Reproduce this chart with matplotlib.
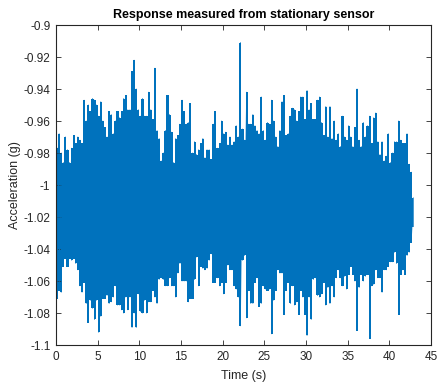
import numpy as np
import matplotlib
matplotlib.use('Agg')
import matplotlib.pyplot as plt
from matplotlib.ticker import FuncFormatter

plt.rcParams['font.family'] = ['Liberation Sans', 'DejaVu Sans']

dt = 0.25
upper = [
    -0.977, -0.968, -0.980, -0.986, -0.970, -0.978, -0.986, -0.977,
    -0.969, -0.974, -0.970, -0.972, -0.974, -0.947, -0.960, -0.950,
    -0.954, -0.946, -0.947, -0.950, -0.957, -0.948, -0.960, -0.964,
    -0.970, -0.954, -0.956, -0.968, -0.960, -0.954, -0.958, -0.954,
    -0.946, -0.944, -0.953, -0.953, -0.929, -0.922, -0.940, -0.953,
    -0.957, -0.946, -0.957, -0.957, -0.942, -0.953, -0.959, -0.927,
    -0.966, -0.971, -0.985, -0.980,
    -0.966, -0.944, -0.956, -0.967, -0.986, -0.971, -0.969, -0.962,
    -0.947, -0.954, -0.962, -0.961, -0.949, -0.980, -0.973, -0.981,
    -0.978, -0.974, -0.971, -0.983, -0.978, -0.978, -0.984, -0.962,
    -0.954, -0.977, -0.974, -0.960, -0.968, -0.967, -0.975, -0.970,
    -0.975, -0.973, -0.963, -0.970, -0.911, -0.965, -0.972, -0.942,
    -0.962, -0.962, -0.956, -0.963, -0.966, -0.968, -0.945, -0.966,
    -0.972, -0.961, -0.962, -0.947, -0.960, -0.970, -0.976, -0.966,
    -0.948, -0.944, -0.969, -0.968, -0.957, -0.952, -0.953, -0.960,
    -0.954, -0.945, -0.945, -0.959, -0.941, -0.953, -0.949, -0.959,
    -0.959, -0.947, -0.945, -0.961, -0.969, -0.951, -0.970, -0.951,
    -0.971, -0.960, -0.972, -0.968, -0.976, -0.957, -0.970, -0.972,
    -0.963, -0.970, -0.976, -0.964, -0.940, -0.972, -0.976, -0.961,
    -0.970,
    -0.963, -0.957, -0.974, -0.958, -0.955, -0.973, -0.981, -0.973,
    -0.985, -0.982, -0.968, -0.986, -0.980, -0.973, -0.973, -0.960,
    -0.972, -0.974, -0.974, -0.968, -0.987, -0.992, -1.008,
]
lower = [
    -1.071, -1.066, -1.067, -1.051, -1.046, -1.051, -1.046, -1.047,
    -1.046, -1.049, -1.053, -1.063, -1.067, -1.061, -1.074, -1.086,
    -1.072, -1.077, -1.084, -1.072, -1.092, -1.082, -1.071, -1.071,
    -1.069, -1.074, -1.073, -1.070, -1.063, -1.075, -1.075, -1.078,
    -1.080, -1.070, -1.078, -1.070, -1.089, -1.080, -1.089, -1.068,
    -1.079, -1.080, -1.072, -1.080, -1.073, -1.073, -1.066, -1.070,
    -1.074, -1.059, -1.058, -1.059,
    -1.063, -1.063, -1.058, -1.063, -1.063, -1.070, -1.055, -1.049,
    -1.060, -1.060, -1.060, -1.073, -1.071, -1.071, -1.059, -1.045,
    -1.063, -1.051, -1.052, -1.053, -1.052, -1.047, -1.043, -1.061,
    -1.061, -1.058, -1.063, -1.061, -1.068, -1.061, -1.050, -1.053,
    -1.053, -1.063, -1.065, -1.070, -1.088, -1.047, -1.044, -1.083,
    -1.066, -1.074, -1.074, -1.061, -1.058, -1.076, -1.074, -1.063,
    -1.065, -1.066, -1.065, -1.093, -1.072, -1.066, -1.053, -1.055,
    -1.055, -1.081, -1.066, -1.061, -1.074, -1.063, -1.075, -1.073,
    -1.081, -1.066, -1.070, -1.081, -1.094, -1.070, -1.084, -1.059,
    -1.058, -1.069, -1.070, -1.068, -1.061, -1.075, -1.064, -1.074,
    -1.063, -1.070, -1.058, -1.053, -1.058, -1.063, -1.057, -1.065,
    -1.056, -1.051, -1.056, -1.060, -1.091, -1.064, -1.056, -1.060,
    -1.057,
    -1.056, -1.096, -1.063, -1.062, -1.053, -1.058, -1.058, -1.067,
    -1.053, -1.053, -1.051, -1.048, -1.048, -1.042, -1.049, -1.081,
    -1.056, -1.053, -1.056, -1.044, -1.042, -1.036, -1.026,
]

xticks = list(range(0, 50, 5))
yticks = [-1.1, -1.08, -1.06, -1.04, -1.02, -1, -0.98, -0.96, -0.94, -0.92, -0.9]

upper = np.array(upper)
lower = np.array(lower)
t = np.arange(len(upper)) * dt + dt / 2

# zig-zag between the extremes, like the raw trace
tz = np.repeat(t, 2)
yz = np.column_stack([upper, lower]).ravel()

blue = '#0072BD'
axc = '#262626'

fig = plt.figure(figsize=(4.38, 3.84), dpi=100)
ax = fig.add_axes([56/438, 39/384, 375/438, 320/384])

ax.fill_between(t, upper, lower, step='mid', color=blue, lw=0)
ax.plot(tz, yz, color=blue, lw=0.6)

ax.set_xlim(0, 45)
ax.set_ylim(-1.1, -0.9)
ax.set_xticks(xticks)
ax.set_yticks(yticks)
ax.yaxis.set_major_formatter(FuncFormatter(lambda v, p: '%g' % round(v, 3)))

ax.tick_params(direction='in', length=3.5, width=0.6, colors=axc,
               labelsize=8.5, top=True, right=True, pad=4)
for s in ax.spines.values():
    s.set_color(axc)
    s.set_linewidth(0.8)

ax.set_title('Response measured from stationary sensor', fontsize=9,
             fontweight='bold', color='black', pad=5)
ax.set_xlabel('Time (s)', fontsize=9, color=axc, labelpad=5)
ax.set_ylabel('Acceleration (g)', fontsize=9, color=axc, labelpad=2)

fig.savefig('out.png', dpi=100)
